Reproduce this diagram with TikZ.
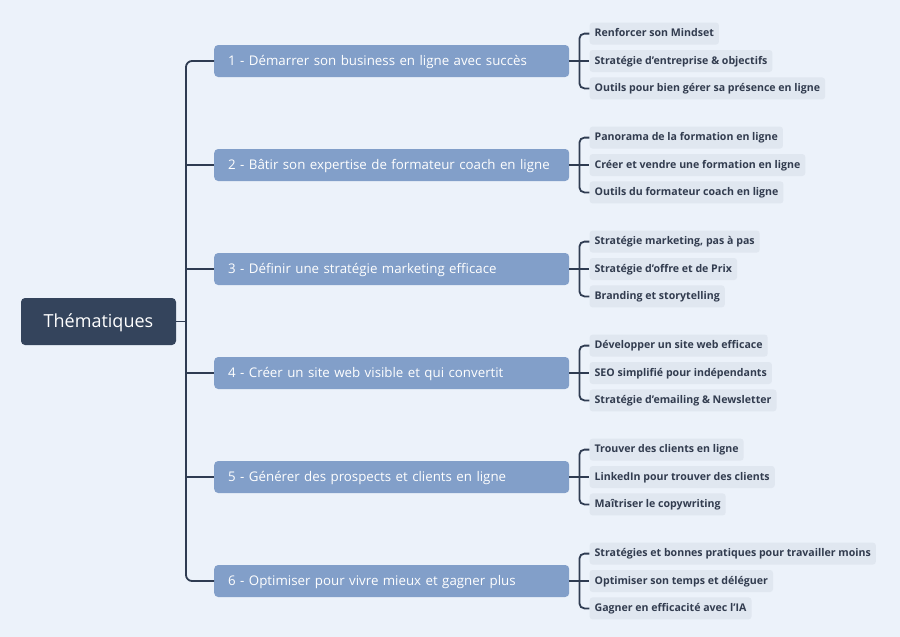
\documentclass[tikz,border=0pt]{standalone}
\usepackage{fontspec}
\setmainfont{Open Sans}
\usepackage{xcolor}
\usetikzlibrary{positioning}
\definecolor{pagebg}{HTML}{ECF2FA}
\definecolor{rootfill}{HTML}{34445C}
\definecolor{topicfill}{HTML}{829FC9}
\definecolor{leaffill}{HTML}{E0E7F0}
\definecolor{leaftext}{HTML}{323C4F}
\definecolor{branchcol}{HTML}{2F3C52}
\tikzset{
  root node/.style={
    rectangle,
    rounded corners=4pt,
    fill=rootfill,
    text=white,
    font=\fontsize{18}{22}\selectfont,
    text height=14pt,
    text depth=3pt,
    minimum width=155pt,
    minimum height=47pt,
  },
  topic node/.style={
    rectangle,
    rounded corners=4pt,
    fill=topicfill,
    text=white,
    font=\fontsize{13.3}{16}\selectfont,
    text height=12.5pt,
    text depth=3.5pt,
    minimum height=32pt,
    text width=327pt,
    inner xsep=14pt,
    align=left,
  },
  leaf node/.style={
    rectangle,
    rounded corners=3pt,
    fill=leaffill,
    text=leaftext,
    font=\bfseries\fontsize{10.6}{13}\selectfont,
    text height=9pt,
    text depth=3pt,
    minimum height=22pt,
    inner xsep=5pt,
  },
  branch line/.style={line width=1.8pt, draw=branchcol},
}

\begin{document}
\begin{tikzpicture}[x=1pt,y=-1pt]
  \fill[pagebg] (0,0) rectangle (900,637);
  \useasboundingbox (0,0) rectangle (900,637);

  \node[root node] (root) at (98.5,321.5) {Thématiques};
  \coordinate (hub) at (186,321.5);

  \node[topic node,anchor=west] (t1) at (214,61) {1 - Démarrer son business en ligne avec succès};
  \node[topic node,anchor=west] (t2) at (214,165) {2 - Bâtir son expertise de formateur coach en ligne};
  \node[topic node,anchor=west] (t3) at (214,269) {3 - Définir une stratégie marketing efficace};
  \node[topic node,anchor=west] (t4) at (214,373) {4 - Créer un site web visible et qui convertit};
  \node[topic node,anchor=west] (t5) at (214,477) {5 - Générer des prospects et clients en ligne};
  \node[topic node,anchor=west] (t6) at (214,581) {6 - Optimiser pour vivre mieux et gagner plus};

  % leaves, middle one first, then above / below it
  \node[leaf node,right=20pt of t1] (l12) {Stratégie d'entreprise \& objectifs};
  \node[leaf node,above right=5pt and 0pt of l12.north west] (l11) {Renforcer son Mindset};
  \node[leaf node,below right=5pt and 0pt of l12.south west] (l13) {Outils pour bien gérer sa présence en ligne};

  \node[leaf node,right=20pt of t2] (l22) {Créer et vendre une formation en ligne};
  \node[leaf node,above right=5pt and 0pt of l22.north west] (l21) {Panorama de la formation en ligne};
  \node[leaf node,below right=5pt and 0pt of l22.south west] (l23) {Outils du formateur coach en ligne};

  \node[leaf node,right=20pt of t3] (l32) {Stratégie d’offre et de Prix};
  \node[leaf node,above right=5pt and 0pt of l32.north west] (l31) {Stratégie marketing, pas à pas};
  \node[leaf node,below right=5pt and 0pt of l32.south west] (l33) {Branding et storytelling};

  \node[leaf node,right=20pt of t4] (l42) {SEO simplifié pour indépendants};
  \node[leaf node,above right=5pt and 0pt of l42.north west] (l41) {Développer un site web efficace};
  \node[leaf node,below right=5pt and 0pt of l42.south west] (l43) {Stratégie d'emailing \& Newsletter};

  \node[leaf node,right=20pt of t5] (l52) {LinkedIn pour trouver des clients};
  \node[leaf node,above right=5pt and 0pt of l52.north west] (l51) {Trouver des clients en ligne};
  \node[leaf node,below right=5pt and 0pt of l52.south west] (l53) {Maîtriser le copywriting};

  \node[leaf node,right=20pt of t6] (l62) {Optimiser son temps et déléguer};
  \node[leaf node,above right=5pt and 0pt of l62.north west] (l61) {Stratégies et bonnes pratiques pour travailler moins};
  \node[leaf node,below right=5pt and 0pt of l62.south west] (l63) {Gagner en efficacité avec l’IA};

  % trunk
  \draw[branch line] (root.east) -- (hub);
  \draw[branch line,rounded corners=6pt] (hub) |- (t1.west) (hub) |- (t6.west);
  \draw[branch line] (hub) |- (t2.west) (hub) |- (t3.west) (hub) |- (t4.west) (hub) |- (t5.west);

  % brackets
  \coordinate (b1) at ([xshift=10pt]t1.east);
  \coordinate (b2) at ([xshift=10pt]t2.east);
  \coordinate (b3) at ([xshift=10pt]t3.east);
  \coordinate (b4) at ([xshift=10pt]t4.east);
  \coordinate (b5) at ([xshift=10pt]t5.east);
  \coordinate (b6) at ([xshift=10pt]t6.east);

  \draw[branch line] (t1.east) -- (l12.west);
  \draw[branch line,rounded corners=5pt] (b1) |- (l11.west) (b1) |- (l13.west);
  \draw[branch line] (t2.east) -- (l22.west);
  \draw[branch line,rounded corners=5pt] (b2) |- (l21.west) (b2) |- (l23.west);
  \draw[branch line] (t3.east) -- (l32.west);
  \draw[branch line,rounded corners=5pt] (b3) |- (l31.west) (b3) |- (l33.west);
  \draw[branch line] (t4.east) -- (l42.west);
  \draw[branch line,rounded corners=5pt] (b4) |- (l41.west) (b4) |- (l43.west);
  \draw[branch line] (t5.east) -- (l52.west);
  \draw[branch line,rounded corners=5pt] (b5) |- (l51.west) (b5) |- (l53.west);
  \draw[branch line] (t6.east) -- (l62.west);
  \draw[branch line,rounded corners=5pt] (b6) |- (l61.west) (b6) |- (l63.west);
\end{tikzpicture}
\end{document}
